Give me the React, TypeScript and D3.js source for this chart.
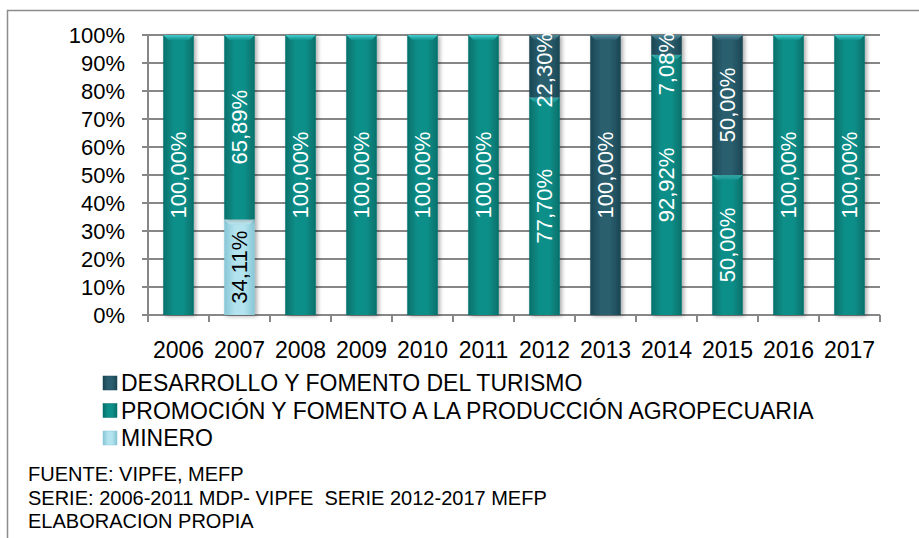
import React from 'react';
import * as d3 from 'd3';

const years = ['2006', '2007', '2008', '2009', '2010', '2011', '2012', '2013', '2014', '2015', '2016', '2017'];
const minero = [0, 34.11, 0, 0, 0, 0, 0, 0, 0, 0, 0, 0];
const promocion = [100, 65.89, 100, 100, 100, 100, 77.7, 0, 92.92, 50, 100, 100];
const desarrollo = [0, 0, 0, 0, 0, 0, 22.3, 100, 7.08, 50, 0, 0];
const yTicks = [0, 10, 20, 30, 40, 50, 60, 70, 80, 90, 100];
const legendNames = [
  'DESARROLLO Y FOMENTO DEL TURISMO',
  'PROMOCIÓN Y FOMENTO A LA PRODUCCIÓN AGROPECUARIA',
  'MINERO',
];
const footerLines = [
  'FUENTE: VIPFE, MEFP',
  'SERIE: 2006-2011 MDP- VIPFE  SERIE 2012-2017 MEFP',
  'ELABORACION PROPIA',
];

const keys = ['minero', 'promocion', 'desarrollo'];
const palette: Record<string, { edge: string; mid: string; cap: string; label: string }> = {
  minero: { edge: '#86c6d6', mid: '#b3e3ee', cap: '#d4f2f8', label: '#000000' },
  promocion: { edge: '#05706b', mid: '#0f8f89', cap: '#45cfcf', label: '#ffffff' },
  desarrollo: { edge: '#1b4653', mid: '#2a5e6e', cap: '#4f8a9a', label: '#ffffff' },
};
const legendKeys = ['desarrollo', 'promocion', 'minero'];

const FONT = '"Liberation Sans", Arial, sans-serif';

function fmt(v: number) {
  return v.toFixed(2).replace('.', ',') + '%';
}

// approximate Arial advance widths (em)
function textWidthEm(s: string) {
  let w = 0;
  for (const c of s) {
    if (c === ',') w += 0.278;
    else if (c === '%') w += 0.889;
    else w += 0.556;
  }
  return w;
}

export default function App() {
  const left = 148;
  const right = 880;
  const top = 35;
  const bottom = 315;

  const x = d3.scaleBand<string>().domain(years).range([left, right]).paddingInner(0.5).paddingOuter(0.25);
  const y = d3.scaleLinear().domain([0, 100]).range([bottom, top]);

  const rows = years.map((yr, i) => ({ year: yr, minero: minero[i], promocion: promocion[i], desarrollo: desarrollo[i] }));
  const stacked = d3.stack<any>().keys(keys)(rows);

  const step = x.step();
  const bw = x.bandwidth();
  const labelSize = 22;

  return (
    <svg width={919} height={538} style={{ position: 'absolute', left: 0, top: 0, background: '#fff' }} fontFamily={FONT}>
      <defs>
        {keys.map((k) => (
          <linearGradient key={k} id={`g-${k}`} x1="0" x2="1" y1="0" y2="0">
            <stop offset="0%" stopColor={palette[k].edge} />
            <stop offset="35%" stopColor={palette[k].mid} />
            <stop offset="65%" stopColor={palette[k].mid} />
            <stop offset="100%" stopColor={palette[k].edge} />
          </linearGradient>
        ))}
        {keys.map((k) => (
          <linearGradient key={k} id={`c-${k}`} x1="0" x2="0" y1="0" y2="1">
            <stop offset="0%" stopColor={palette[k].cap} />
            <stop offset="100%" stopColor={palette[k].mid} />
          </linearGradient>
        ))}
        <filter id="shadow" x="-30%" y="-10%" width="160%" height="120%">
          <feDropShadow dx="2" dy="1" stdDeviation="2" floodColor="#000" floodOpacity="0.35" />
        </filter>
      </defs>

      {/* outer frame */}
      <rect x={7.5} y={10.5} width={1000} height={1000} fill="none" stroke="#8c8c8c" strokeWidth={1.5} />

      {/* gridlines */}
      {yTicks.map((t) => (
        <line key={t} x1={left - 6} x2={right} y1={y(t)} y2={y(t)} stroke="#878787" strokeWidth={2} />
      ))}
      <line x1={left} x2={left} y1={top} y2={bottom + 7} stroke="#878787" strokeWidth={2} />
      {d3.range(years.length + 1).map((i) => (
        <line key={i} x1={left + i * step} x2={left + i * step} y1={bottom} y2={bottom + 7} stroke="#878787" strokeWidth={2} />
      ))}

      {/* y tick labels */}
      {yTicks.map((t) => (
        <text key={t} x={125} y={y(t)} dy="0.36em" textAnchor="end" fontSize={22} fill="#000">
          {t}%
        </text>
      ))}

      {/* x labels */}
      {years.map((yr) => (
        <text key={yr} x={(x(yr) as number) + bw / 2} y={358} textAnchor="middle" fontSize={23} fill="#000">
          {yr}
        </text>
      ))}

      {/* bars */}
      {stacked.map((s) => (
        <g key={s.key} filter="url(#shadow)">
          {s.map((d, i) => {
            const v = d[1] - d[0];
            if (v <= 0) return null;
            const x0 = x(years[i]) as number;
            const yTop = y(d[1]);
            const yBot = y(d[0]);
            return (
              <g key={i}>
                <rect x={x0} y={yTop} width={bw} height={yBot - yTop} fill={`url(#g-${s.key})`} />
                <path
                  d={`M${x0},${yTop} L${x0 + bw},${yTop} L${x0 + bw - 5},${yTop + 5} L${x0 + 5},${yTop + 5} Z`}
                  fill={`url(#c-${s.key})`}
                />
              </g>
            );
          })}
        </g>
      ))}

      {/* data labels */}
      {stacked.map((s) => (
        <g key={s.key}>
          {s.map((d, i) => {
            const v = d[1] - d[0];
            if (v <= 0) return null;
            const label = fmt(v);
            const half = (textWidthEm(label) * labelSize) / 2;
            let cy = (y(d[1]) + y(d[0])) / 2;
            cy = Math.max(cy, top + half - 2);
            const cx = (x(years[i]) as number) + bw / 2;
            return (
              <text
                key={i}
                transform={`translate(${cx},${cy}) rotate(-90)`}
                textAnchor="middle"
                dy="0.36em"
                fontSize={labelSize}
                fill={palette[s.key].label}
              >
                {label}
              </text>
            );
          })}
        </g>
      ))}

      {/* legend */}
      {legendKeys.map((k, i) => (
        <g key={k} transform={`translate(103, ${391 + i * 27.5})`}>
          <rect x={0} y={-15} width={14} height={14} fill={`url(#g-${k})`} stroke={palette[k].edge} strokeWidth={0.5} />
          <text x={18} y={0} fontSize={23} fill="#000">
            {legendNames[i]}
          </text>
        </g>
      ))}

      {/* footer */}
      {footerLines.map((l, i) => (
        <text key={i} x={28} y={481 + i * 23.5} fontSize={20} fill="#000" style={{ whiteSpace: 'pre' }}>
          {l}
        </text>
      ))}
    </svg>
  );
}
